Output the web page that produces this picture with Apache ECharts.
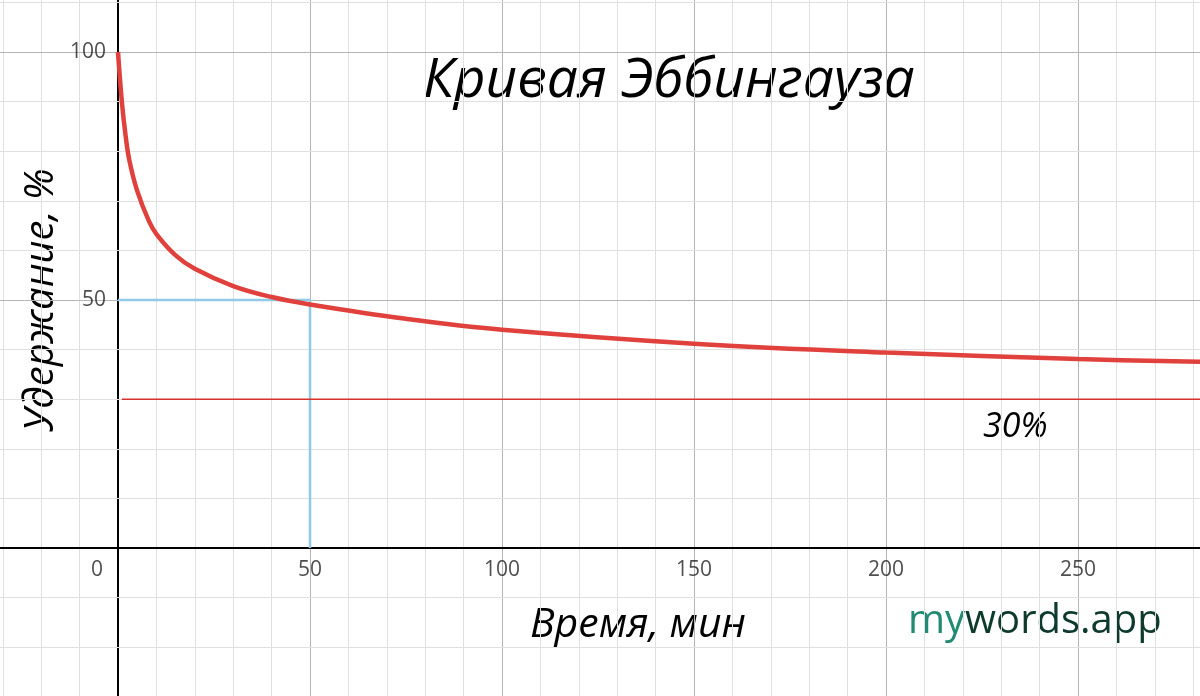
<!DOCTYPE html>
<html><head><meta charset="utf-8">
<script src="https://cdn.jsdelivr.net/npm/echarts@6/dist/echarts.min.js"></script>
<style>html,body{margin:0;background:#fff}#c{width:1200px;height:696px}</style>
</head><body><div id="c"></div>
<script>
const curveX = [0, 1, 2, 3, 5, 8, 10, 15, 20, 30, 40, 50, 75, 100, 150, 200, 250, 285];
const curveY = [100, 90, 83, 78, 72, 66, 63.3, 59, 56.3, 52.8, 50.6, 49.1, 46.2, 44, 41.2, 39.4, 38.1, 37.5];
const xTicks = [0, 50, 100, 150, 200, 250];
const yTicks = [50, 100];
const level = 30;
const half = [50, 50];

const chart = echarts.init(document.getElementById('c'));
const font = '"Open Sans", sans-serif';
const xMin = -118 / 3.84, xMax = (1200 - 118) / 3.84;
const yMax = 548 / 4.96, yMin = -148 / 4.96;
const minorX = [], minorY = [];
for (let v = -30; v <= 280; v += 10) minorX.push(v);
for (let v = -20; v <= 110; v += 10) minorY.push(v);
const lineStyleFor = v => ({ color: v === 0 ? '#000' : (v % 50 === 0 ? '#b5b5b5' : '#e0e0e0'), width: v === 0 ? 2 : 1, type: 'solid' });
const gridLines = minorX.map(v => ({ xAxis: v, lineStyle: lineStyleFor(v) }))
  .concat(minorY.map(v => ({ yAxis: v, lineStyle: lineStyleFor(v) })));
chart.setOption({
  animation: false,
  grid: { left: 0, right: 0, top: 0, bottom: 0 },
  xAxis: { type: 'value', min: xMin, max: xMax, show: false, splitLine: { show: false } },
  yAxis: { type: 'value', min: yMin, max: yMax, show: false, splitLine: { show: false } },
  series: [
    { type: 'line', silent: true, data: [], z: 0,
      markLine: { symbol: 'none', silent: true, z: 0, label: { show: false }, animation: false, data: gridLines } },
    { type: 'scatter', symbolSize: 0, silent: true, data: xTicks.map(v => [v, 0]),
      label: { show: true, position: 'bottom', distance: 12, color: '#222', fontSize: 21, fontFamily: font,
        formatter: p => String(p.value[0]) },
      labelLayout: p => p.dataIndex === 0 ? { dx: -21 } : {} },
    { type: 'scatter', symbolSize: 0, silent: true, data: yTicks.map(v => [0, v]),
      label: { show: true, position: 'left', distance: 12, color: '#222', fontSize: 21, fontFamily: font,
        formatter: p => String(p.value[1]) } },
    { type: 'line', data: [[0, half[1]], [half[0], half[1]], [half[0], 0]],
      symbol: 'none', lineStyle: { color: '#8fcbe6', width: 2.5 }, z: 5 },
    { type: 'line', data: [[1, level], [xMax, level]], symbol: 'none',
      lineStyle: { color: '#d9302a', width: 1.5 }, z: 5 },
    { type: 'line', data: curveX.map((x, i) => [x, curveY[i]]), smooth: 0.4,
      symbol: 'none', lineStyle: { color: '#e0413c', width: 4.5 }, z: 6 }
  ],
  graphic: [
    { type: 'text', left: 423, top: 54, style: { text: 'Кривая Эббингауза', fontSize: 55, fontStyle: 'italic', fontFamily: font, fill: '#000' } },
    { type: 'text', x: 42, y: 300, rotation: Math.PI / 2, style: { text: 'Удержание, %', fontSize: 40, fontStyle: 'italic', fontFamily: font, fill: '#000', align: 'center', verticalAlign: 'middle' } },
    { type: 'text', left: 530, top: 605, style: { text: 'Время, мин', fontSize: 41, fontStyle: 'italic', fontFamily: font, fill: '#000' } },
    { type: 'text', left: 983, top: 410, style: { text: '30%', fontSize: 34, fontStyle: 'italic', fontFamily: font, fill: '#000' } },
    { type: 'text', left: 908, top: 602, style: { text: '{a|my}{b|words.app}', fontFamily: font, rich: {
      a: { fontSize: 40, fill: '#208a72', fontFamily: font },
      b: { fontSize: 40, fill: '#0d3a2c', fontFamily: font } } } }
  ]
});
</script></body></html>
